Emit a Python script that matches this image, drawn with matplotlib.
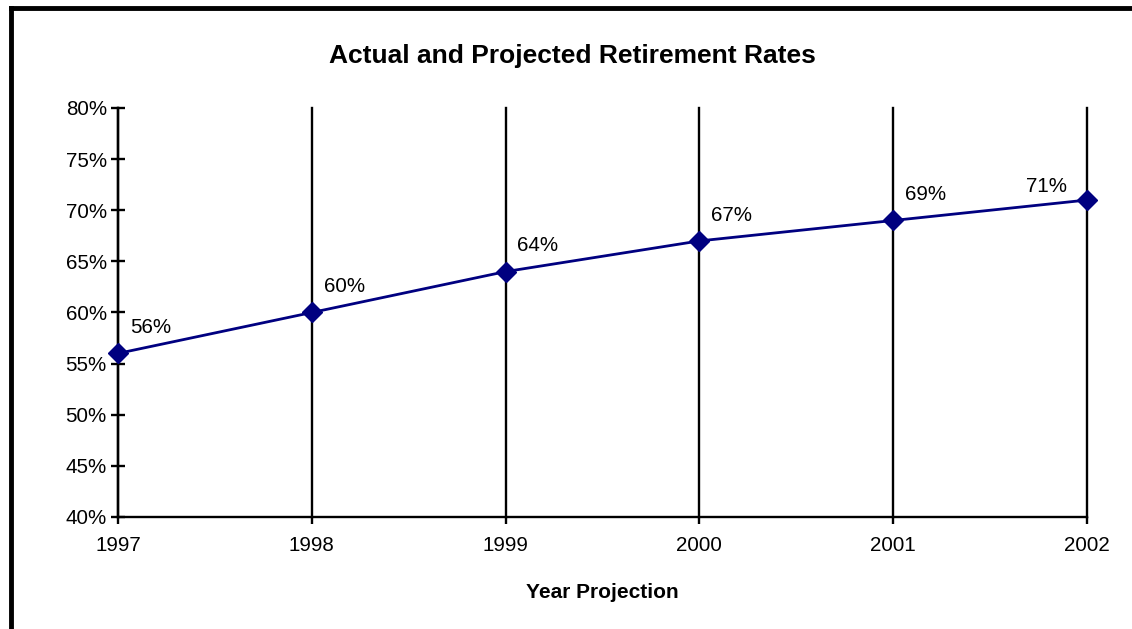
import matplotlib
matplotlib.use("Agg")
import matplotlib.pyplot as plt
from matplotlib.ticker import PercentFormatter

years = [1997, 1998, 1999, 2000, 2001, 2002]
rates = [56, 60, 64, 67, 69, 71]
labels = ["56%", "60%", "64%", "67%", "69%", "71%"]
yticks = [40, 45, 50, 55, 60, 65, 70, 75, 80]

plt.rcParams['font.family'] = ['Liberation Sans', 'DejaVu Sans']

fig = plt.figure(figsize=(11.32, 6.29), dpi=100)
ax = fig.add_axes([118/1132, 1 - 517/629, (1087-118)/1132, (517-108)/629])

# figure border (left and top visible)
fig.add_artist(plt.Line2D([10.5/1132, 10.5/1132], [0, 1 - 7.5/629], transform=fig.transFigure, color='black', lw=3.5))
fig.add_artist(plt.Line2D([10.5/1132, 1], [1 - 7.5/629, 1 - 7.5/629], transform=fig.transFigure, color='black', lw=3.5))

for yr in years:
    ax.axvline(yr, color='black', lw=1.7, zorder=1, clip_on=False)

ax.plot(years, rates, color='#000080', lw=2, marker='D', markersize=10.5,
        markerfacecolor='#000080', markeredgecolor='#000080', zorder=3, clip_on=False)

for i, (x, y, t) in enumerate(zip(years, rates, labels)):
    if i == len(years) - 1:
        ax.annotate(t, (x, y), xytext=(-29, 10), textcoords='offset points',
                    ha='center', va='center', fontsize=14.8)
    else:
        ax.annotate(t, (x, y), xytext=(8.5, 18.5), textcoords='offset points',
                    ha='left', va='center', fontsize=14.8)

ax.set_xlim(1997, 2002)
ax.set_ylim(40, 80)
ax.set_yticks(yticks)
ax.yaxis.set_major_formatter(PercentFormatter(decimals=0))
ax.set_xticks(years)
ax.set_xticklabels([str(y) for y in years])

for s in ['top', 'right']:
    ax.spines[s].set_visible(False)
for s in ['left', 'bottom']:
    ax.spines[s].set_linewidth(1.7)

ax.tick_params(axis='y', direction='inout', length=10, width=1.7, labelsize=14.8, pad=3)
ax.tick_params(axis='x', direction='out', length=5, width=1.7, labelsize=14.8, pad=9)

ax.set_xlabel('Year Projection', fontsize=15, fontweight='bold', labelpad=20)
fig.text(572/1132, 1 - 56/629, 'Actual and Projected Retirement Rates',
         ha='center', va='center', fontsize=19, fontweight='bold')

fig.savefig('out.png', dpi=100)
